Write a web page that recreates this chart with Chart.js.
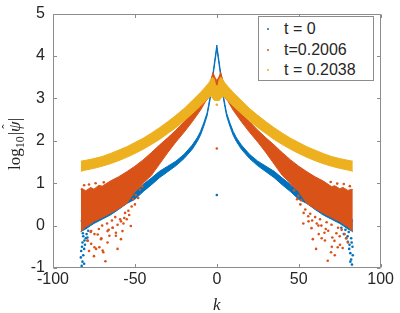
<!DOCTYPE html>
<html><head><meta charset="utf-8">
<script src="https://cdn.jsdelivr.net/npm/chart.js@4.4.1/dist/chart.umd.min.js"></script>
<style>
html,body{margin:0;padding:0;background:#fff;}
#wrap{position:relative;width:400px;height:313px;overflow:hidden;}
#legend{position:absolute;left:258px;top:16px;width:116px;height:65px;border:1px solid #8c8c8c;background:#fff;font-family:'Liberation Sans',Arial,Helvetica,sans-serif;font-size:16px;color:#262626;box-sizing:border-box;}
.row{position:absolute;left:0;height:20px;line-height:20px;white-space:nowrap;}
.dot{position:absolute;left:8px;top:9px;width:2px;height:2px;border-radius:1px;}
.lab{position:absolute;left:25px;top:0;}
</style></head>
<body>
<div id="wrap">
<canvas id="c" width="400" height="313"></canvas>
<div id="legend"></div>
</div>
<script>
// ---- data ----
const seriesLabels = ['t = 0', 't=0.2006', 't = 0.2038'];
const seriesColors = ['#0072BD', '#D95319', '#EDB120'];
const xTicks = [-100, -50, 0, 50, 100];
const yTicks = [-1, 0, 1, 2, 3, 4, 5];

// t = 0 (blue): dense band envelope
const blueK = [-83,-82,-80,-77,-75,-70,-65,-60,-55,-50,-45,-40,-35,-30,-25,-20,-15,-12,-10,-8,-6,-5,-4,-3,-2,-1,0,1,2,3,4,5,6,8,10,12,15,20,25,30,35,40,45,50,55,60,65,70,75,77,80,82,83];
const blueTop = [0.10,0.20,0.25,0.30,0.32,0.40,0.47,0.56,0.68,0.80,0.97,1.12,1.28,1.40,1.52,1.68,1.90,2.07,2.22,2.42,2.65,2.85,3.07,3.37,3.70,3.98,4.26,3.98,3.70,3.37,3.07,2.85,2.65,2.42,2.22,2.07,1.90,1.68,1.52,1.40,1.28,1.12,0.97,0.80,0.68,0.56,0.47,0.40,0.32,0.30,0.25,0.20,0.10];
const blueBottom = [-0.15,-0.12,-0.08,0.00,0.05,0.15,0.25,0.38,0.52,0.62,0.80,0.96,1.13,1.27,1.41,1.58,1.80,1.98,2.13,2.34,2.58,2.78,3.00,3.30,3.62,3.90,4.18,3.90,3.62,3.30,3.00,2.78,2.58,2.34,2.13,1.98,1.80,1.58,1.41,1.27,1.13,0.96,0.80,0.62,0.52,0.38,0.25,0.15,0.05,0.00,-0.08,-0.12,-0.15];
// t = 0 (blue): isolated points
const blueDotsK = [-82.5,-82,-81.5,-82.8,-81,-80.5,-82,-80,-81.5,-79.5,-78.5,-83,-81,-82.3,-80.8,-81.8,-79,0,82.5,82,81.5,82.8,81,80,79,77.5,82,80.5,76,83,81.5,80.8,78.5,82.3,79.8];
const blueDotsV = [-0.95,-0.85,-0.70,-0.60,-0.55,-0.45,-0.40,-0.30,-0.25,-0.20,-0.12,-0.75,-0.90,-0.50,-0.35,-0.18,-0.28,0.72,-0.92,-0.80,-0.65,-0.50,-0.45,-0.38,-0.30,-0.20,-0.30,-0.15,-0.05,-0.70,-0.85,-0.55,-0.10,-0.40,-0.25];

// t = 0.2006 (orange): dense band envelope
const orangeK = [-83,-82.5,-80,-77,-75,-72,-70,-65,-60,-55,-50,-45,-40,-35,-30,-25,-20,-15,-10,-7,-5,-3.5,-2.4,-1.2,0,1.2,2.4,3.5,5,7,10,15,20,25,30,35,40,45,50,55,60,65,70,72,75,77,80,82.5,83];
const orangeTop = [0.85,0.88,0.82,0.90,0.86,0.95,0.93,1.05,1.15,1.27,1.40,1.55,1.72,1.90,2.07,2.25,2.45,2.67,2.92,3.10,3.25,3.45,3.61,3.50,3.42,3.50,3.61,3.45,3.25,3.10,2.92,2.67,2.45,2.25,2.07,1.90,1.72,1.55,1.40,1.27,1.15,1.05,0.92,0.94,0.87,0.90,0.83,0.86,0.84];
const orangeBottom = [-0.15,-0.12,-0.03,0.04,0.10,0.15,0.19,0.29,0.40,0.52,0.80,1.00,1.18,1.45,1.72,1.97,2.20,2.45,2.72,2.92,3.02,3.08,3.12,3.15,3.20,3.15,3.12,3.08,3.02,2.92,2.72,2.45,2.20,1.97,1.72,1.45,1.18,1.00,0.80,0.52,0.40,0.29,0.19,0.15,0.10,0.04,-0.03,-0.12,-0.15];
// t = 0.2006 (orange): isolated points
const orangeDotsK = [-74.7,-71.7,-69.3,-68,-60.6,-58.5,-63.6,-73.7,-76.7,-65.6,-61.6,-77,-72,-70,-67,-64,-62,-59,-56,-54,-52,-57,-66,-79,-78,-75,-70.5,-55,-50,-48,
  -76.7,-72.7,-70.7,-66.7,-63.6,-60.6,-58.5,-56.5,-53.5,-74.7,-69.7,-66.7,-61.6,-57.6,-52.5,-78.8,-81,-78,-74,-69,-51,-49.5,-47,-45.5,
  0,
  60.6,67.7,69.7,58.6,73.8,76.8,65.7,71.8,78,74,70,67,63,60,57,54,51,62,68,80,56,49,64,72,75,
  76.2,73,70.5,66.5,63.8,61,58.2,55.8,53,75.2,70.2,66,62.2,57.8,52.8,79,81.2,77.5,73.5,69.5,51.5,49.8,47.2,45.8];
const orangeDotsV = [-0.20,-0.51,-0.63,-0.84,-0.55,-0.32,-0.05,-0.55,-0.43,-0.24,-0.17,-0.15,-0.08,0.00,0.05,0.12,0.20,0.15,0.30,0.35,0.45,0.05,-0.10,-0.35,-0.60,-0.72,-0.30,0.15,0.50,0.65,
  -0.13,-0.21,-0.32,-0.13,-0.05,0.02,0.10,0.18,0.25,-0.51,-0.59,-0.40,-0.24,-0.13,-0.01,-0.36,0.95,0.97,1.00,1.02,0.62,0.72,0.85,0.92,
  1.82,
  -0.55,-0.83,-0.63,-0.32,-0.51,-0.53,-0.17,-0.36,-0.20,-0.05,0.02,0.08,0.15,0.20,0.28,0.38,0.50,0.00,-0.12,-0.40,0.10,0.62,-0.30,-0.70,-0.25,
  -0.10,-0.18,-0.28,-0.08,0.00,0.05,0.12,0.22,0.30,-0.45,-0.50,-0.35,-0.20,-0.06,0.05,-0.30,0.93,0.98,0.99,1.03,0.60,0.70,0.83,0.95];

// t = 0.2038 (yellow): dense band envelope
const yellowK = [-83,-80,-75,-70,-65,-60,-55,-50,-45,-40,-35,-30,-25,-20,-15,-10,-7,-5,-3.5,-2.5,-1.5,-0.7,0.7,1.5,2.5,3.5,5,7,10,15,20,25,30,35,40,45,50,55,60,65,70,75,80,83];
const yellowTop = [1.52,1.54,1.58,1.63,1.70,1.78,1.86,1.96,2.06,2.18,2.31,2.45,2.60,2.76,2.95,3.14,3.27,3.36,3.45,3.50,3.45,3.30,3.30,3.45,3.50,3.45,3.36,3.27,3.14,2.95,2.76,2.60,2.45,2.31,2.18,2.06,1.96,1.86,1.78,1.70,1.63,1.58,1.54,1.52];
const yellowBottom = [1.28,1.31,1.35,1.40,1.46,1.53,1.61,1.70,1.80,1.91,2.03,2.17,2.31,2.47,2.64,2.82,2.94,3.02,3.05,3.00,2.95,2.95,2.95,2.95,3.00,3.05,3.02,2.94,2.82,2.64,2.47,2.31,2.17,2.03,1.91,1.80,1.70,1.61,1.53,1.46,1.40,1.35,1.31,1.28];
const yellowDotsK = [0];
const yellowDotsV = [2.85];

// ---- build chart ----
const pts = (k, v) => k.map((x, i) => ({x: x, y: v[i]}));
const datasets = [];
function band(name, k, top, bottom, color, order) {
  datasets.push({label: name + ' upper', data: pts(k, top), borderColor: color, backgroundColor: color,
    borderWidth: 1, pointRadius: 0, fill: '+1', order: order, tension: 0});
  datasets.push({label: name + ' lower', data: pts(k, bottom), borderColor: color, backgroundColor: color,
    borderWidth: 1, pointRadius: 0, fill: false, order: order, tension: 0});
}
function dots(name, k, v, color, order) {
  datasets.push({label: name + ' dots', data: pts(k, v), showLine: false, borderColor: color, backgroundColor: color,
    pointRadius: 1.3, pointBorderWidth: 0, fill: false, order: order});
}
band(seriesLabels[2], yellowK, yellowTop, yellowBottom, seriesColors[2], 1);
dots(seriesLabels[2], yellowDotsK, yellowDotsV, seriesColors[2], 1);
band(seriesLabels[1], orangeK, orangeTop, orangeBottom, seriesColors[1], 2);
dots(seriesLabels[1], orangeDotsK, orangeDotsV, seriesColors[1], 2);
band(seriesLabels[0], blueK, blueTop, blueBottom, seriesColors[0], 3);
dots(seriesLabels[0], blueDotsK, blueDotsV, seriesColors[0], 3);

const axisColor = '#8c8c8c';
const textColor = '#262626';
const tickFont = {family: "'Liberation Sans', Arial, Helvetica, sans-serif", size: 16, lineHeight: 0.7};

const boxPlugin = {
  id: 'boxTicks',
  afterDatasetsDraw(chart) {
    const c = chart.ctx, a = chart.chartArea, sx = chart.scales.x, sy = chart.scales.y;
    c.save();
    c.strokeStyle = axisColor; c.lineWidth = 1;
    c.beginPath();
    const L = Math.round(a.left) + 0.5, R = Math.round(a.right) - 0.5, T = Math.round(a.top) + 0.5, B = Math.round(a.bottom) - 0.5;
    c.rect(L, T, R - L, B - T);
    const tl = 3.5;
    xTicks.forEach(v => {
      const p = Math.round(sx.getPixelForValue(v)) + 0.5;
      c.moveTo(p, B); c.lineTo(p, B - tl);
      c.moveTo(p, T); c.lineTo(p, T + tl);
    });
    yTicks.forEach(v => {
      const p = Math.round(sy.getPixelForValue(v)) + 0.5;
      c.moveTo(L, p); c.lineTo(L + tl, p);
      c.moveTo(R, p); c.lineTo(R - tl, p);
    });
    c.stroke();
    c.restore();
  }
};

const yTitlePlugin = {
  id: 'yTitle',
  afterDraw(chart) {
    const c = chart.ctx;
    const serif = "'Liberation Serif', 'DejaVu Serif', 'Times New Roman', serif";
    const parts = [
      {t: 'log', f: '17px ' + serif, dy: 0},
      {t: '10', f: '12px ' + serif, dy: 4},
      {t: '|', f: '17px ' + serif, dy: 0, gap: 1},
      {t: 'ψ', f: 'italic 17px ' + serif, dy: 0, hat: true},
      {t: '|', f: '17px ' + serif, dy: 0}
    ];
    c.save();
    let total = 0;
    parts.forEach(p => { c.font = p.f; p.w = c.measureText(p.t).width; total += p.w + (p.gap || 0); });
    c.translate(20, 144);
    c.rotate(-Math.PI / 2);
    c.fillStyle = textColor;
    c.textBaseline = 'alphabetic';
    c.textAlign = 'left';
    let x = -total / 2;
    parts.forEach(p => {
      x += (p.gap || 0);
      c.font = p.f;
      c.fillText(p.t, x, p.dy);
      if (p.hat) {
        c.font = '13px ' + serif;
        c.fillText('ˆ', x + p.w / 2 - 2, -9);
      }
      x += p.w;
    });
    c.restore();
  }
};

new Chart(document.getElementById('c'), {
  type: 'line',
  data: {datasets: datasets},
  options: {
    responsive: false,
    animation: false,
    devicePixelRatio: 1,
    layout: {padding: {left: 0, right: 17, top: 6, bottom: 0}},
    plugins: {legend: {display: false}, tooltip: {enabled: false}},
    scales: {
      x: {
        type: 'linear', min: -100, max: 100,
        afterBuildTicks: s => { s.ticks = xTicks.map(v => ({value: v})); },
        afterFit: s => { s.height = 45; },
        grid: {display: false, drawTicks: false}, border: {display: false},
        ticks: {padding: 6, color: textColor, font: tickFont, maxRotation: 0},
        title: {display: true, text: 'k', color: textColor, padding: {top: 0, bottom: 0},
          font: {family: "'Liberation Serif', 'DejaVu Serif', serif", style: 'italic', size: 17, lineHeight: 0.85}}
      },
      y: {
        type: 'linear', min: -1, max: 5,
        afterBuildTicks: s => { s.ticks = yTicks.map(v => ({value: v})); },
        afterFit: s => { s.width = 53; },
        grid: {display: false, drawTicks: false}, border: {display: false},
        ticks: {padding: 8, color: textColor, font: tickFont}
      }
    }
  },
  plugins: [boxPlugin, yTitlePlugin]
});

// HTML legend built from the series arrays
const leg = document.getElementById('legend');
const rowTops = [2, 23, 43];
seriesLabels.forEach((lab, i) => {
  const r = document.createElement('div');
  r.className = 'row'; r.style.top = rowTops[i] + 'px';
  const d = document.createElement('span'); d.className = 'dot'; d.style.background = seriesColors[i];
  const t = document.createElement('span'); t.className = 'lab'; t.textContent = lab;
  r.appendChild(d); r.appendChild(t); leg.appendChild(r);
});
</script>
</body></html>
